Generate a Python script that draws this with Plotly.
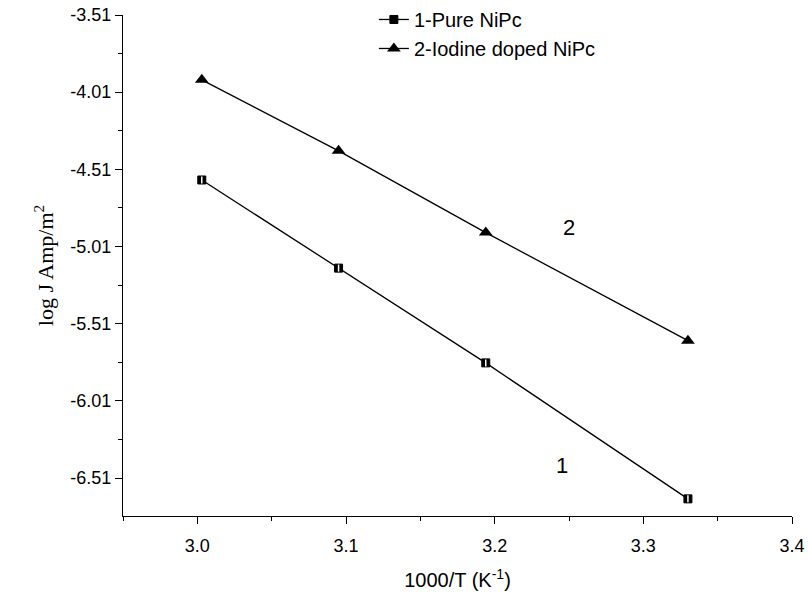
import plotly.graph_objects as go

x_vals = [3.003, 3.095, 3.194, 3.330]
pure_nipc = [-4.579, -5.150, -5.764, -6.645]
iodine_nipc = [-3.930, -4.390, -4.920, -5.620]
y_ticks = [-3.51, -4.01, -4.51, -5.01, -5.51, -6.01, -6.51]
x_ticks = [3.0, 3.1, 3.2, 3.3, 3.4]

fig = go.Figure()
fig.add_trace(go.Scatter(x=x_vals, y=pure_nipc, mode="lines+markers", name="1-Pure NiPc",
                         line=dict(color="black", width=1.3),
                         marker=dict(symbol="square", size=8, color="black",
                                     line=dict(color="black", width=1))))
fig.add_trace(go.Scatter(x=x_vals, y=pure_nipc, mode="markers", showlegend=False, hoverinfo="skip",
                         marker=dict(symbol="line-ns", size=5,
                                     line=dict(color="white", width=1.5))))
fig.add_trace(go.Scatter(x=x_vals, y=iodine_nipc, mode="lines+markers", name="2-Iodine doped NiPc",
                         line=dict(color="black", width=1.3),
                         marker=dict(symbol="triangle-up", size=12, color="black")))

fig.add_annotation(x=3.245, y=-6.43, text="1", showarrow=False, font=dict(size=22, color="black"))
fig.add_annotation(x=3.25, y=-4.89, text="2", showarrow=False, font=dict(size=22, color="black"))

axis_common = dict(showline=True, linecolor="black", linewidth=1.3, ticks="outside",
                   ticklen=7, tickwidth=1.3, tickcolor="black", showgrid=False, zeroline=False,
                   mirror=False, tickfont=dict(size=18, color="black", family="Liberation Sans"))
fig.update_xaxes(range=[2.95, 3.4], tickvals=x_ticks, ticktext=[f"{v:.1f}" for v in x_ticks],
                 ticklabelstandoff=6,
                 minor=dict(ticks="outside", ticklen=4, tickwidth=1.3, tickcolor="black", dtick=0.05),
                 title=dict(text="1000/T (K<sup>-1</sup>)", font=dict(size=20, family="Liberation Sans", color="black"), standoff=18),
                 **axis_common)
fig.update_yaxes(range=[-6.756, -3.51], tickvals=y_ticks, ticktext=[f"{v:.2f}" for v in y_ticks],
                 minor=dict(ticks="outside", ticklen=4, tickwidth=1.3, tickcolor="black",
                            tickvals=[v - 0.25 for v in y_ticks]),
                 title=dict(text="log J Amp/m<sup>2</sup>", font=dict(size=22, family="Liberation Serif", color="black"), standoff=10),
                 **axis_common)

fig.update_layout(width=808, height=596, plot_bgcolor="white", paper_bgcolor="white",
                  margin=dict(l=123, r=16, t=15, b=80, autoexpand=False),
                  font=dict(family="Liberation Sans", color="black"),
                  legend=dict(x=0.375, y=1.03, xanchor="left", yanchor="top",
                              font=dict(size=20, family="Liberation Sans", color="black"),
                              bgcolor="rgba(0,0,0,0)", tracegroupgap=0),
                  showlegend=True)

fig.write_html("out.html")
